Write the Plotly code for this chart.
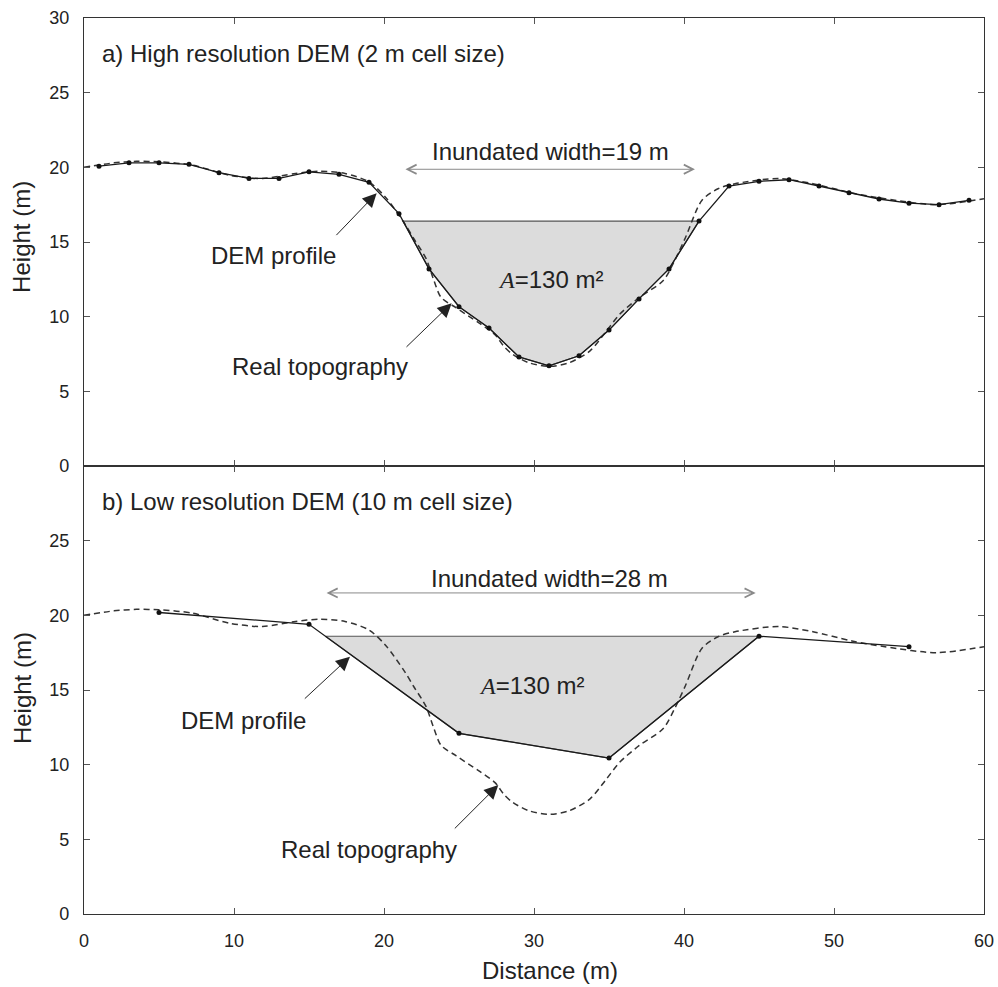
import numpy as np
import plotly.graph_objects as go

# ---------------- data ----------------
dist_hi = [1, 3, 5, 7, 9, 11, 13, 15, 17, 19, 21, 23, 25, 27, 29, 31, 33, 35, 37, 39,
           41, 43, 45, 47, 49, 51, 53, 55, 57, 59]
height_hi = [20.08, 20.3, 20.3, 20.2, 19.64, 19.26, 19.26, 19.7, 19.53, 19.0, 16.9, 13.2,
             10.67, 9.24, 7.3, 6.71, 7.38, 9.1, 11.19, 13.2, 16.4, 18.75, 19.06, 19.17,
             18.75, 18.3, 17.88, 17.6, 17.5, 17.79]

dist_lo = [5, 15, 25, 35, 45, 55]
height_lo = [20.19, 19.4, 12.1, 10.44, 18.6, 17.9]

real_x = [0, 2, 3.5, 5, 7.2, 9.7, 11.9, 14.1, 15.7, 17.4, 19, 20.1, 21.4, 22.0, 22.8, 23.3,
          23.8, 24.8, 26.3, 27.4, 28.0, 28.6, 29.7, 31.0, 32.3, 33.7, 34.8, 35.7, 37.0,
          38.6, 39.4, 40.1, 41.2, 42.3, 43.4, 46.3, 48.6, 51.2, 53.4, 56.8, 60]
real_h = [20.0, 20.3, 20.4, 20.37, 20.15, 19.47, 19.25, 19.59, 19.74, 19.59, 19.02, 18.0,
          16.2, 15.2, 13.9, 12.5, 11.3, 10.6, 9.6, 8.8, 8.0, 7.46, 6.9, 6.67, 6.9, 7.68,
          9.0, 10.15, 11.27, 12.4, 13.8, 15.3, 17.8, 18.58, 18.9, 19.25, 18.9, 18.28,
          17.9, 17.5, 17.9]

water_hi = 16.4
water_lo = 18.6

x_ticks = [0, 10, 20, 30, 40, 50, 60]
y_ticks_top = [0, 5, 10, 15, 20, 25, 30]
y_ticks_bot = [0, 5, 10, 15, 20, 25]

label_a = "a) High resolution DEM (2 m cell size)"
label_b = "b) Low resolution DEM (10 m cell size)"
width_a = "Inundated width=19 m"
width_b = "Inundated width=28 m"
area_txt = "<span style='font-family:Liberation Serif'><i>A</i></span>=130 m²"

FONT = "Liberation Sans, Arial, sans-serif"


def flood_polygon(xs, hs, level):
    xs = np.asarray(xs, float)
    hs = np.asarray(hs, float)
    i0 = int(np.where(hs < level)[0][0])
    i1 = i0
    while i1 + 1 < len(hs) and hs[i1 + 1] < level:
        i1 += 1
    xl = np.interp(level, [hs[i0], hs[i0 - 1]], [xs[i0], xs[i0 - 1]])
    xr = np.interp(level, [hs[i1], hs[i1 + 1]], [xs[i1], xs[i1 + 1]])
    px = [xl] + list(xs[i0:i1 + 1]) + [xr, xl]
    py = [level] + list(hs[i0:i1 + 1]) + [level, level]
    return px, py


fig = go.Figure()

panels = [
    ("x", "y", dist_hi, height_hi, water_hi),
    ("x2", "y2", dist_lo, height_lo, water_lo),
]
for xa, ya, dx, dh, lvl in panels:
    px, py = flood_polygon(dx, dh, lvl)
    fig.add_trace(go.Scatter(x=px, y=py, xaxis=xa, yaxis=ya, mode="lines", fill="toself",
                             fillcolor="#dcdcdc", line=dict(color="#555555", width=1.2),
                             hoverinfo="skip", showlegend=False))
    fig.add_trace(go.Scatter(x=real_x, y=real_h, xaxis=xa, yaxis=ya, mode="lines",
                             line=dict(color="#333333", width=1.5, dash="6px,4px",
                                       shape="spline", smoothing=0.8),
                             showlegend=False))
    fig.add_trace(go.Scatter(x=dx, y=dh, xaxis=xa, yaxis=ya, mode="lines+markers",
                             line=dict(color="#1a1a1a", width=1.3),
                             marker=dict(color="#111111", size=5),
                             showlegend=False))

ann = []
ann.append(dict(x=1.07, y=27.6, xref="x", yref="y", text=label_a, showarrow=False,
                xanchor="left", yanchor="middle", font=dict(size=24)))
ann.append(dict(x=1.07, y=27.6, xref="x2", yref="y2", text=label_b, showarrow=False,
                xanchor="left", yanchor="middle", font=dict(size=24)))
ann.append(dict(x=31.1, y=21.05, xref="x", yref="y", text=width_a, showarrow=False,
                font=dict(size=24)))
ann.append(dict(x=31.0, y=22.45, xref="x2", yref="y2", text=width_b, showarrow=False,
                font=dict(size=24)))
ann.append(dict(x=40.73, y=19.87, ax=21.33, ay=19.87, xref="x", yref="y", axref="x", ayref="y",
                text="", showarrow=True, arrowhead=5, startarrowhead=5, arrowside="end+start",
                arrowsize=1.8, startarrowsize=1.8, arrowwidth=1, arrowcolor="#8a8a8a"))
ann.append(dict(x=44.78, y=21.5, ax=16.07, ay=21.5, xref="x2", yref="y2", axref="x2", ayref="y2",
                text="", showarrow=True, arrowhead=5, startarrowhead=5, arrowside="end+start",
                arrowsize=1.8, startarrowsize=1.8, arrowwidth=1, arrowcolor="#8a8a8a"))
ann.append(dict(x=31.1, y=12.46, xref="x", yref="y", text=area_txt, showarrow=False,
                font=dict(size=24)))
ann.append(dict(x=29.8, y=15.27, xref="x2", yref="y2", text=area_txt, showarrow=False,
                font=dict(size=24)))
ann.append(dict(x=12.6, y=14.1, xref="x", yref="y", text="DEM profile", showarrow=False,
                font=dict(size=24)))
ann.append(dict(x=15.75, y=6.65, xref="x", yref="y", text="Real topography", showarrow=False,
                font=dict(size=24)))
ann.append(dict(x=10.6, y=12.95, xref="x2", yref="y2", text="DEM profile", showarrow=False,
                font=dict(size=24)))
ann.append(dict(x=19.0, y=4.35, xref="x2", yref="y2", text="Real topography", showarrow=False,
                font=dict(size=24)))
arrows = [
    ("x", "y", 19.51, 18.27, 16.73, 15.36),
    ("x", "y", 24.51, 10.9, 21.4, 7.88),
    ("x2", "y2", 17.73, 17.23, 14.62, 14.33),
    ("x2", "y2", 27.62, 8.64, 24.62, 5.63),
]
for xr_, yr_, tx, ty, sx, sy in arrows:
    ann.append(dict(x=tx, y=ty, ax=sx, ay=sy, xref=xr_, yref=yr_, axref=xr_, ayref=yr_,
                    text="", showarrow=True, arrowhead=2, arrowsize=2.8, arrowwidth=1,
                    arrowcolor="#222222"))
ann.append(dict(x=-0.069, y=0.7556, xref="paper", yref="paper", text="Height (m)",
                textangle=-90, showarrow=False, xanchor="center", yanchor="middle",
                font=dict(size=24)))
ann.append(dict(x=-0.069, y=0.252, xref="paper", yref="paper", text="Height (m)",
                textangle=-90, showarrow=False, xanchor="center", yanchor="middle",
                font=dict(size=24)))
ann.append(dict(x=(550 - 84) / 900, y=-0.0636, xref="paper", yref="paper", text="Distance (m)",
                showarrow=False, xanchor="center", yanchor="middle", font=dict(size=24)))

axis_common = dict(showline=True, linecolor="#333333", linewidth=1.3, mirror="ticks",
                   ticks="inside", ticklen=6, tickwidth=1, tickcolor="#555555",
                   showgrid=False, zeroline=False, tickfont=dict(size=18, color="#222222"),
                   ticklabelstandoff=10, automargin=False)

fig.update_layout(
    width=998, height=987,
    margin=dict(l=84, r=14, t=18, b=73, autoexpand=False),
    paper_bgcolor="white", plot_bgcolor="white",
    font=dict(family=FONT, color="#222222"),
    xaxis=dict(domain=[0, 1], range=[0, 60], anchor="y", tickvals=x_ticks,
               showticklabels=False, **axis_common),
    yaxis=dict(domain=[0.5, 1], range=[0, 30], anchor="x", tickvals=y_ticks_top,
               **axis_common),
    xaxis2=dict(domain=[0, 1], range=[0, 60], anchor="y2", tickvals=x_ticks,
                **axis_common),
    yaxis2=dict(domain=[0, 0.5], range=[0, 30], anchor="x2", tickvals=y_ticks_bot,
                **axis_common),
    annotations=ann,
    showlegend=False,
)

fig.write_html("out.html", config={"displayModeBar": False},
               post_script="document.body.style.margin='0px';document.body.style.overflow='hidden';")
